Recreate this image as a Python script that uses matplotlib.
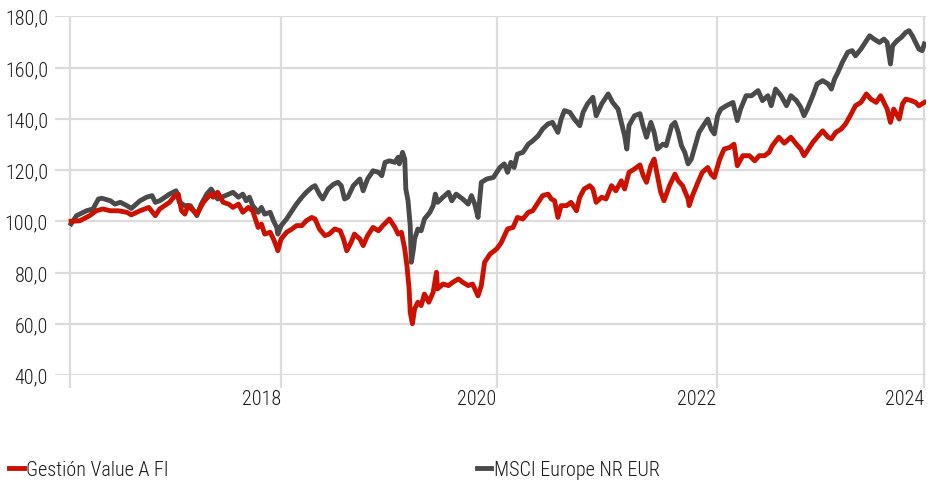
import matplotlib
matplotlib.use("Agg")
import matplotlib.pyplot as plt
from matplotlib import font_manager
from matplotlib.ticker import FuncFormatter
from matplotlib.lines import Line2D

# ---------------- data (decimal years, index values) ----------------
fund_label = "Gestión Value A FI"
bench_label = "MSCI Europe NR EUR"

fund_x = [2016.11, 2016.19, 2016.28, 2016.34, 2016.40, 2016.47, 2016.54, 2016.62, 2016.66, 2016.74,
          2016.82, 2016.88, 2016.92, 2017.01, 2017.06, 2017.09, 2017.12, 2017.15, 2017.18, 2017.21,
          2017.26, 2017.32, 2017.36, 2017.38, 2017.41, 2017.45, 2017.50, 2017.55, 2017.59, 2017.64,
          2017.68, 2017.73, 2017.77, 2017.82, 2017.85, 2017.88, 2017.93, 2017.96, 2017.99, 2018.00,
          2018.03, 2018.08, 2018.13, 2018.17, 2018.22, 2018.26, 2018.31, 2018.34, 2018.38, 2018.43,
          2018.47, 2018.52, 2018.57, 2018.60, 2018.63, 2018.67, 2018.70, 2018.75, 2018.78, 2018.82,
          2018.87, 2018.92, 2018.96, 2019.02, 2019.07, 2019.10, 2019.13, 2019.16, 2019.18, 2019.20,
          2019.21, 2019.23, 2019.25, 2019.28, 2019.31, 2019.34, 2019.38, 2019.42, 2019.45, 2019.46,
          2019.51, 2019.56, 2019.60, 2019.65, 2019.69, 2019.74, 2019.78, 2019.83, 2019.86, 2019.89,
          2019.94, 2020.00, 2020.04, 2020.10, 2020.15, 2020.19, 2020.24, 2020.29, 2020.33, 2020.38,
          2020.42, 2020.47, 2020.50, 2020.53, 2020.56, 2020.59, 2020.64, 2020.68, 2020.73, 2020.76,
          2020.80, 2020.85, 2020.88, 2020.91, 2020.96, 2021.00, 2021.05, 2021.09, 2021.14, 2021.17,
          2021.21, 2021.26, 2021.31, 2021.34, 2021.37, 2021.41, 2021.44, 2021.47, 2021.50, 2021.53,
          2021.58, 2021.63, 2021.66, 2021.70, 2021.75, 2021.76, 2021.79, 2021.84, 2021.88, 2021.93,
          2021.96, 2021.99, 2022.04, 2022.08, 2022.13, 2022.17, 2022.20, 2022.25, 2022.31, 2022.36,
          2022.40, 2022.45, 2022.49, 2022.52, 2022.58, 2022.63, 2022.69, 2022.74, 2022.78, 2022.81,
          2022.84, 2022.89, 2022.93, 2022.98, 2023.03, 2023.06, 2023.10, 2023.15, 2023.19, 2023.24,
          2023.28, 2023.33, 2023.38, 2023.42, 2023.47, 2023.51, 2023.54, 2023.57, 2023.60, 2023.63,
          2023.68, 2023.71, 2023.74, 2023.79, 2023.83, 2023.86, 2023.91]
fund_y = [100.0, 100.2, 102.2, 104.1, 104.8, 104.1, 104.1, 103.5, 102.5, 104.1,
          105.4, 102.2, 104.8, 107.4, 110.0, 110.6, 104.1, 102.8, 106.1, 104.8,
          102.8, 107.4, 109.4, 110.6, 109.4, 111.3, 107.4, 106.7, 105.4, 106.7,
          103.5, 105.4, 104.1, 97.6, 98.9, 95.0, 95.7, 93.1, 89.8, 88.5,
          93.1, 95.7, 97.0, 98.3, 98.3, 100.2, 101.5, 100.9, 97.0, 94.4,
          95.0, 97.0, 96.3, 93.1, 88.5, 91.8, 95.0, 93.1, 90.5, 94.4,
          97.6, 96.3, 98.3, 100.9, 97.6, 95.0, 95.7, 89.2, 82.7, 73.6,
          64.5, 60.0, 65.8, 68.4, 67.1, 71.6, 68.4, 72.3, 80.1, 73.6,
          75.5, 74.9, 76.2, 77.5, 76.2, 74.9, 75.5, 70.9, 74.9, 84.0,
          87.2, 89.2, 91.5, 97.0, 97.6, 101.5, 100.9, 103.5, 104.1, 107.4,
          110.0, 110.6, 108.7, 108.0, 101.5, 106.1, 106.1, 107.4, 104.1, 109.4,
          112.6, 113.9, 112.6, 107.4, 109.4, 108.7, 113.9, 111.9, 115.8, 112.6,
          119.1, 120.4, 122.0, 117.8, 115.2, 121.7, 124.3, 117.8, 111.3, 108.0,
          113.9, 118.4, 115.8, 113.9, 108.7, 106.1, 110.0, 115.2, 119.1, 121.0,
          118.4, 117.1, 124.3, 128.2, 128.8, 130.1, 121.7, 125.6, 125.6, 123.6,
          125.6, 125.6, 126.9, 129.5, 132.8, 130.5, 132.8, 130.1, 128.2, 125.6,
          127.5, 130.8, 132.8, 135.3, 132.8, 132.2, 134.7, 136.0, 138.0, 141.8,
          145.1, 146.4, 149.7, 147.7, 146.4, 149.0, 146.4, 143.8, 138.6, 143.8,
          139.9, 145.8, 147.7, 147.1, 146.4, 145.1, 146.4]

bench_x = [2016.11, 2016.16, 2016.25, 2016.31, 2016.36, 2016.39, 2016.47, 2016.51, 2016.56, 2016.62,
           2016.66, 2016.74, 2016.80, 2016.85, 2016.88, 2016.92, 2017.01, 2017.07, 2017.10, 2017.15,
           2017.20, 2017.26, 2017.30, 2017.35, 2017.39, 2017.45, 2017.52, 2017.59, 2017.64, 2017.68,
           2017.71, 2017.74, 2017.77, 2017.82, 2017.85, 2017.88, 2017.93, 2017.96, 2017.99, 2018.00,
           2018.03, 2018.08, 2018.13, 2018.17, 2018.22, 2018.26, 2018.31, 2018.34, 2018.38, 2018.41,
           2018.46, 2018.51, 2018.55, 2018.58, 2018.61, 2018.64, 2018.69, 2018.75, 2018.78, 2018.82,
           2018.87, 2018.92, 2018.95, 2018.98, 2019.02, 2019.07, 2019.10, 2019.11, 2019.14, 2019.16,
           2019.17, 2019.19, 2019.21, 2019.22, 2019.24, 2019.25, 2019.28, 2019.31, 2019.34, 2019.39,
           2019.42, 2019.44, 2019.46, 2019.51, 2019.56, 2019.59, 2019.63, 2019.69, 2019.74, 2019.77,
           2019.80, 2019.83, 2019.86, 2019.91, 2019.97, 2020.01, 2020.03, 2020.07, 2020.10, 2020.13,
           2020.16, 2020.19, 2020.24, 2020.29, 2020.33, 2020.38, 2020.42, 2020.47, 2020.51, 2020.56,
           2020.59, 2020.62, 2020.67, 2020.71, 2020.76, 2020.79, 2020.83, 2020.88, 2020.91, 2020.96,
           2021.02, 2021.06, 2021.11, 2021.14, 2021.17, 2021.19, 2021.21, 2021.26, 2021.31, 2021.34,
           2021.37, 2021.41, 2021.44, 2021.47, 2021.52, 2021.55, 2021.60, 2021.63, 2021.66, 2021.69,
           2021.72, 2021.75, 2021.78, 2021.81, 2021.85, 2021.90, 2021.93, 2021.96, 2021.99, 2022.02,
           2022.05, 2022.10, 2022.16, 2022.20, 2022.23, 2022.28, 2022.33, 2022.39, 2022.43, 2022.48,
           2022.51, 2022.55, 2022.60, 2022.65, 2022.69, 2022.74, 2022.78, 2022.81, 2022.84, 2022.89,
           2022.93, 2022.98, 2023.03, 2023.06, 2023.09, 2023.12, 2023.16, 2023.21, 2023.25, 2023.28,
           2023.33, 2023.38, 2023.41, 2023.45, 2023.50, 2023.54, 2023.57, 2023.60, 2023.62, 2023.66,
           2023.70, 2023.74, 2023.77, 2023.80, 2023.83, 2023.86, 2023.89, 2023.91]
bench_y = [99.0, 102.2, 104.1, 104.8, 108.7, 109.0, 108.0, 106.7, 107.4, 106.1,
           105.0, 108.0, 109.4, 110.0, 107.4, 108.0, 110.6, 111.9, 107.4, 106.1,
           106.1, 102.2, 106.7, 110.6, 112.6, 108.7, 110.0, 111.3, 109.4, 110.6,
           108.0, 109.4, 106.1, 103.5, 105.4, 102.8, 103.5, 100.2, 97.6, 95.0,
           98.3, 100.9, 104.1, 106.7, 109.4, 111.3, 113.2, 113.9, 110.6, 108.7,
           112.6, 114.5, 115.2, 113.9, 108.7, 109.4, 113.9, 116.5, 111.9, 116.5,
           119.7, 119.1, 117.8, 123.0, 123.6, 123.0, 125.0, 122.4, 126.9, 124.3,
           112.6, 108.0, 98.3, 84.0, 89.2, 93.1, 97.0, 96.3, 100.9, 103.5,
           106.1, 110.6, 107.4, 109.4, 111.3, 108.0, 110.6, 108.7, 106.7, 110.0,
           106.7, 101.5, 115.2, 116.5, 117.1, 119.7, 121.0, 122.4, 119.1, 123.0,
           121.0, 126.2, 126.9, 130.1, 131.4, 133.4, 136.0, 138.0, 138.6, 134.7,
           139.9, 143.2, 142.5, 139.9, 137.3, 142.5, 145.8, 148.4, 141.2, 145.8,
           149.7, 146.4, 143.8, 138.6, 133.4, 128.2, 137.3, 141.2, 142.0, 137.0,
           132.8, 138.6, 134.7, 128.2, 130.1, 129.5, 137.3, 138.6, 134.7, 129.5,
           126.9, 122.4, 124.3, 128.8, 134.7, 138.0, 139.9, 136.0, 134.1, 141.2,
           143.8, 145.1, 146.4, 139.3, 143.8, 149.0, 149.0, 151.0, 147.1, 149.0,
           145.1, 151.6, 149.0, 145.1, 149.0, 147.1, 144.5, 141.2, 143.8, 149.0,
           153.6, 154.9, 153.6, 151.6, 155.6, 158.1, 162.0, 166.0, 166.6, 164.6,
           167.2, 170.5, 172.4, 171.1, 169.8, 171.1, 169.8, 161.4, 168.5, 170.5,
           171.8, 173.7, 174.4, 172.4, 169.8, 167.2, 166.6, 169.2]

y_ticks = [40, 60, 80, 100, 120, 140, 160, 180]
x_tick_pos = [2016.10, 2018.03, 2020.0, 2022.01, 2023.91]
x_tick_labels = ["", "2018", "2020", "2022", "2024"]

# ---------------- style ----------------
names = {f.name for f in font_manager.fontManager.ttflist}
family = "Roboto Condensed" if "Roboto Condensed" in names else "Roboto"
plt.rcParams["font.family"] = [family, "DejaVu Sans"]
plt.rcParams["font.weight"] = 300

RED = "#cc1100"
GRAY = "#4a4a4a"
GRID = "#dcdcdc"
TXT = "#1a1a1a"
FS = 14.5

W, H = 936, 485
fig = plt.figure(figsize=(W / 100, H / 100), dpi=100)
ax = fig.add_axes([55 / W, 1 - 376 / H, (926 - 55) / W, (376 - 17.3) / H])

ax.plot(bench_x, bench_y, color=GRAY, lw=3.5, solid_joinstyle="round", zorder=3)
ax.plot(fund_x, fund_y, color=RED, lw=3.5, solid_joinstyle="round", zorder=4)

ax.set_ylim(40, 180)
ax.set_xlim(2015.963, 2023.925)
ax.set_yticks(y_ticks)
ax.yaxis.set_major_formatter(FuncFormatter(lambda v, p: f"{v:.1f}".replace(".", ",")))
ax.set_xticks(x_tick_pos)
ax.set_xticklabels(x_tick_labels)

ax.grid(True, color=GRID, lw=1.6, zorder=0)
ax.set_axisbelow(True)
for s in ax.spines.values():
    s.set_visible(False)

ax.tick_params(axis="y", length=0, pad=5, labelsize=FS, labelcolor=TXT)
ax.tick_params(axis="x", length=9, width=1.6, color=GRID, pad=1, labelsize=FS, labelcolor=TXT,
               direction="out")
for lab in ax.get_xticklabels():
    lab.set_horizontalalignment("right")

# legends
h1 = Line2D([], [], color=RED, lw=3.5)
h2 = Line2D([], [], color=GRAY, lw=3.5)
common = dict(frameon=False, fontsize=FS, handlelength=0.72, handletextpad=0.12,
              borderaxespad=0, borderpad=0, labelcolor=TXT)
fig.legend([h1], [fund_label], loc="center left", bbox_to_anchor=(9 / W, 1 - 471 / H), **common)
fig.legend([h2], [bench_label], loc="center left", bbox_to_anchor=(477 / W, 1 - 471 / H), **common)

fig.savefig("out.png", dpi=100)
